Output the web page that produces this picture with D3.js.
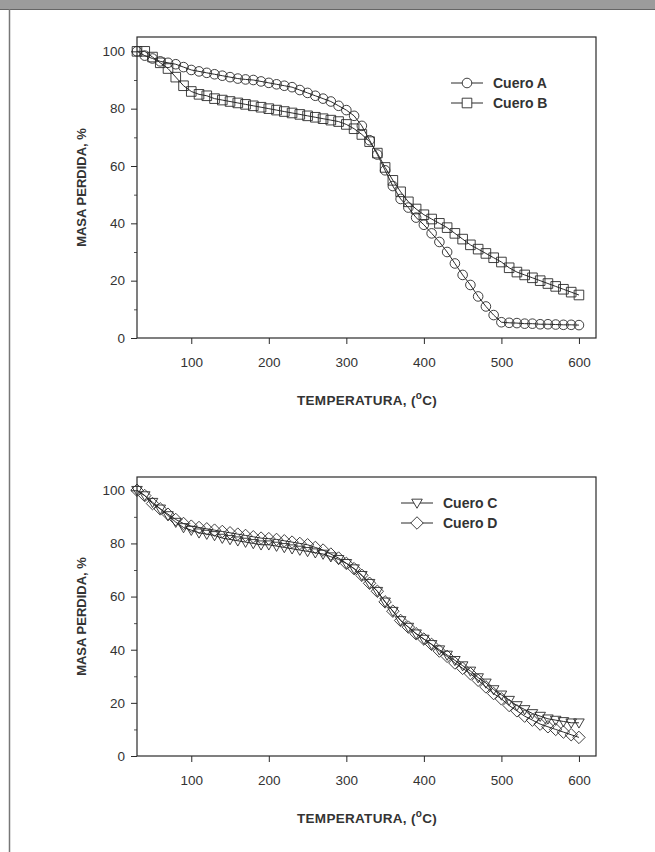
<!DOCTYPE html>
<html>
<head>
<meta charset="utf-8">
<script src="https://cdn.jsdelivr.net/npm/d3@7"></script>
<style>
  body { margin: 0; background: #fff; }
  svg { display: block; font-family: "Liberation Sans", Arial, sans-serif; }
</style>
</head>
<body>
<div id="chart"></div>
<script>
// temperaturas de las medidas (°C)
const temp = [30, 40, 50, 60, 70, 80, 90, 100, 110, 120, 130, 140, 150, 160, 170, 180, 190, 200,
  210, 220, 230, 240, 250, 260, 270, 280, 290, 300, 310, 320, 330, 340, 350, 360, 370, 380,
  390, 400, 410, 420, 430, 440, 450, 460, 470, 480, 490, 500, 510, 520, 530, 540, 550, 560,
  570, 580, 590, 600];

const cueroA = [100, 98.5, 97.5, 96.5, 96, 95.5, 94.5, 93.5, 93, 92.5, 92, 91.5, 91, 90.5, 90.2, 90, 89.5, 89,
  88.5, 88, 87.5, 86.5, 85.5, 84.5, 83.5, 82.5, 81, 79.5, 77.5, 74, 69, 64, 58.5, 53, 48.5, 45.5,
  42, 39.5, 36.5, 33.5, 30, 26, 22, 18.5, 14.5, 11, 8, 5.5, 5.3, 5.2, 5, 5, 4.8, 4.8,
  4.7, 4.6, 4.6, 4.5];

const cueroB = [100, 100, 98, 96, 94, 91, 88, 86, 85, 84.5, 83.5, 83, 82.5, 82, 81.5, 81, 80.5, 80,
  79.5, 79, 78.5, 78, 77.5, 77, 76.5, 76, 75.5, 74.5, 73, 71, 68.5, 64.5, 59.5, 55, 51, 47.5,
  45, 43, 41.5, 40, 38.5, 36.5, 34.5, 32.5, 31, 29.5, 28, 26.5, 24.5, 23, 22, 21, 20, 19,
  18, 17, 16, 15];

const cueroC = [100, 98, 95.5, 93, 90.5, 88, 86, 85, 84, 83.5, 83, 82, 81.5, 81, 80.5, 80, 79.5, 79.5,
  79, 78.5, 78, 77.5, 77, 76.5, 76, 75, 74, 72.5, 70.5, 68, 65, 62, 58, 54.5, 51, 48.5,
  46, 44, 42, 40, 38, 36, 34, 32, 29.5, 27.5, 25, 23, 21, 19, 17.5, 16, 15, 14,
  13.5, 13, 12.5, 12.5];

const cueroD = [100, 98, 95, 93, 91, 89, 87.5, 86.5, 86, 85.5, 85, 84.5, 84, 83.5, 83, 82.5, 82, 81.8,
  81.5, 81, 80.5, 80, 79.5, 78.5, 77.5, 76, 74.5, 72.5, 70.5, 68, 65, 62, 58, 54.5, 51, 48.5,
  46, 44, 42, 39.5, 37.5, 35, 33, 31, 28.5, 26, 23.5, 21.5, 19, 17, 15, 13.5, 12, 11,
  10, 9, 8, 7];

const xTicks = [100, 200, 300, 400, 500, 600];
const yTicks = [0, 20, 40, 60, 80, 100];
const yMinor = [10, 30, 50, 70, 90];

const W = 655, H = 852;
const ink = "#2a2a2a";

const svg = d3.select("#chart").append("svg")
  .attr("width", W)
  .attr("height", H);

// marco de la pagina escaneada
svg.append("rect").attr("x", 0).attr("y", 0).attr("width", W).attr("height", 9).attr("fill", "#9c9c9c");
svg.append("line").attr("x1", 0).attr("x2", W).attr("y1", 9.5).attr("y2", 9.5).attr("stroke", "#666");
svg.append("line").attr("x1", 9.5).attr("x2", 9.5).attr("y1", 9).attr("y2", H)
  .attr("stroke", "#777").attr("stroke-width", 1.5);

// simbolos abiertos
function marker(kind, s) {
  if (kind == "circle") {
    return "M" + s + ",0A" + s + "," + s + " 0 1,1 " + (-s) + ",0A" + s + "," + s + " 0 1,1 " + s + ",0Z";
  }
  if (kind == "square") {
    return "M" + (-s) + "," + (-s) + "H" + s + "V" + s + "H" + (-s) + "Z";
  }
  if (kind == "triangle") {
    return "M" + (-s * 1.1) + "," + (-s * 0.8) + "H" + (s * 1.1) + "L0," + (s * 1.1) + "Z";
  }
  // rombo
  const d = s * 1.3;
  return "M0," + (-d) + "L" + d + ",0L0," + d + "L" + (-d) + ",0Z";
}

function panel(top, bottom, series, legendX, legendY) {
  const x = d3.scaleLinear().domain([30, 622]).range([137, 596]);
  const y = d3.scaleLinear().domain([0, 105]).range([bottom, top]);

  const g = svg.append("g");

  // eje y
  const ay = g.append("g").attr("transform", "translate(137,0)")
    .call(d3.axisLeft(y).tickValues(yTicks).tickSize(6).tickPadding(6));
  ay.select(".domain").remove();
  ay.selectAll("line").attr("stroke", ink);
  ay.selectAll("text").attr("font-size", 13.5).attr("fill", "#333").attr("font-family", "Liberation Sans, Arial");

  const ay2 = g.append("g").attr("transform", "translate(137,0)")
    .call(d3.axisLeft(y).tickValues(yMinor).tickSize(3).tickFormat(""));
  ay2.select(".domain").remove();
  ay2.selectAll("line").attr("stroke", "#555");

  // eje x
  const ax = g.append("g").attr("transform", "translate(0," + bottom + ")")
    .call(d3.axisBottom(x).tickValues(xTicks).tickSize(6).tickPadding(13));
  ax.select(".domain").remove();
  ax.selectAll("line").attr("stroke", ink);
  ax.selectAll("text").attr("font-size", 13.5).attr("fill", "#333").attr("font-family", "Liberation Sans, Arial");

  // caja
  g.append("rect")
    .attr("x", 137).attr("y", top)
    .attr("width", 596 - 137).attr("height", bottom - top)
    .attr("fill", "none").attr("stroke", ink).attr("stroke-width", 1.2);

  // titulos
  g.append("text")
    .attr("transform", "translate(81," + ((top + bottom) / 2) + ") rotate(-90)")
    .attr("text-anchor", "middle")
    .attr("dy", "0.35em")
    .attr("font-size", 13)
    .attr("font-weight", "bold")
    .attr("fill", "#333")
    .text("MASA PERDIDA, %");

  const xt = g.append("text")
    .attr("x", 367).attr("y", bottom + 67)
    .attr("text-anchor", "middle")
    .attr("font-size", 13.5)
    .attr("letter-spacing", 0.3)
    .attr("font-weight", "bold")
    .attr("fill", "#333");
  xt.append("tspan").text("TEMPERATURA,  (");
  xt.append("tspan").attr("dy", -6).attr("font-size", 10).text("o");
  xt.append("tspan").attr("dy", 6).text("C)");

  const line = d3.line().x((d, i) => x(temp[i])).y(d => y(d));

  series.forEach(function(s) {
    g.append("path")
      .datum(s.values)
      .attr("d", line)
      .attr("fill", "none")
      .attr("stroke", ink)
      .attr("stroke-width", 1);

    g.append("g").selectAll("path")
      .data(s.values)
      .enter()
      .append("path")
      .attr("transform", (d, i) => "translate(" + x(temp[i]) + "," + y(d) + ")")
      .attr("d", marker(s.kind, 4.8))
      .attr("fill", "none")
      .attr("stroke", ink)
      .attr("stroke-width", 0.9);
  });

  // leyenda
  series.forEach(function(s, i) {
    const ly = legendY + i * 20;
    g.append("line")
      .attr("x1", legendX).attr("x2", legendX + 32)
      .attr("y1", ly).attr("y2", ly)
      .attr("stroke", ink);
    g.append("path")
      .attr("transform", "translate(" + (legendX + 16) + "," + ly + ")")
      .attr("d", marker(s.kind, 4.8))
      .attr("fill", "#fff")
      .attr("stroke", ink)
      .attr("stroke-width", 0.9);
    g.append("text")
      .attr("x", legendX + 42).attr("y", ly)
      .attr("dy", "0.35em")
      .attr("font-size", 14)
      .attr("font-weight", "bold")
      .attr("fill", "#333")
      .text(s.name);
  });
}

panel(37, 338, [
  { name: "Cuero A", values: cueroA, kind: "circle" },
  { name: "Cuero B", values: cueroB, kind: "square" }
], 451, 83);

panel(477, 756, [
  { name: "Cuero C", values: cueroC, kind: "triangle" },
  { name: "Cuero D", values: cueroD, kind: "diamond" }
], 401, 503);
</script>
</body>
</html>
